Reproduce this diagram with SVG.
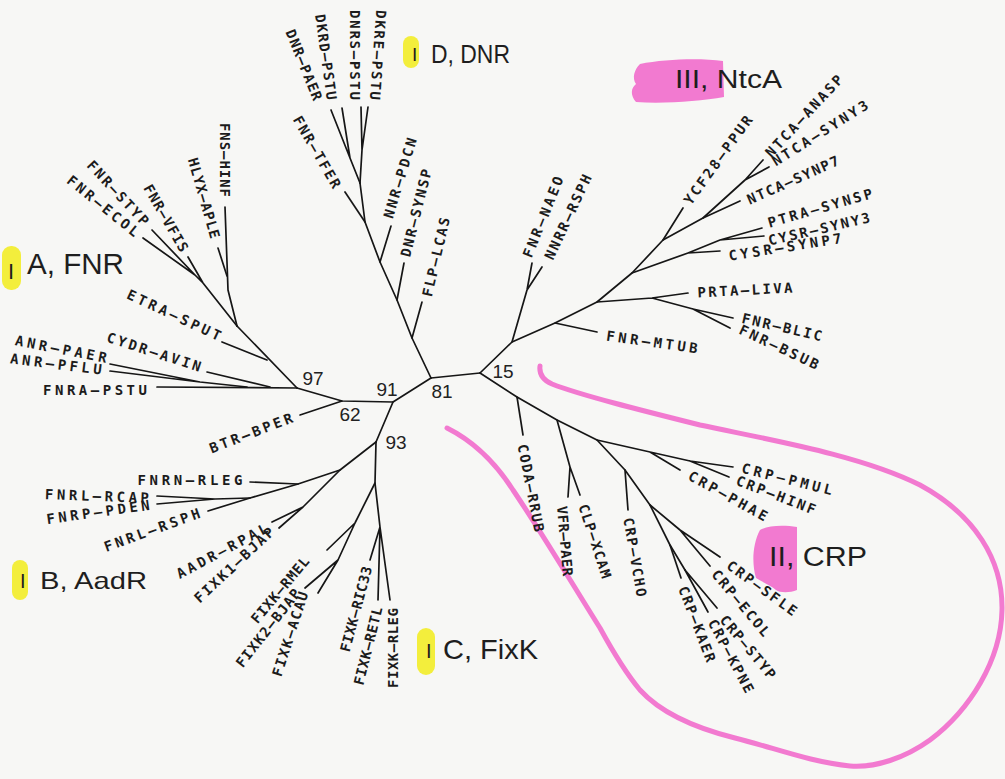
<svg xmlns="http://www.w3.org/2000/svg" width="1005" height="779" viewBox="0 0 1005 779">
  <style>
    .br { fill: none; stroke: #161616; stroke-width: 1.7; stroke-linecap: round; stroke-linejoin: round; }
    .l { font-family: "DejaVu Sans Mono", "Liberation Mono", monospace; font-size: 14px; font-weight: bold; fill: #1c1c1c; text-anchor: middle; dominant-baseline: central; }
    .bs { font-family: "Liberation Sans", Arial, sans-serif; font-size: 19px; fill: #222; text-anchor: middle; dominant-baseline: central; }
    .grp { font-family: "Liberation Sans", Arial, sans-serif; fill: #1e1e1e; }
    .yel { fill: #f3ee3c; }
    .pnk { fill: #f27ad0; }
    .loop { fill: none; stroke: #f27ad0; stroke-width: 5; stroke-linecap: round; stroke-linejoin: round; }
  </style>

  <rect width="1005" height="779" fill="#f7f7f5"/>

  <!-- highlighter marks behind the group names -->
  <g id="marks">
    <rect class="yel" x="2" y="246" width="19" height="44" rx="9"/>
    <rect class="yel" x="12" y="560" width="16" height="40" rx="8"/>
    <rect class="yel" x="417" y="628" width="18" height="47" rx="9"/>
    <rect class="yel" x="403" y="36" width="16" height="32" rx="8"/>
    <path class="pnk" d="M640,64 C665,59 700,58 723,61 L724,97 C700,101 665,104 636,102 C630,95 631,88 636,84 C632,78 634,70 640,64 Z"/>
    <path class="pnk" d="M760,530 C768,525 785,525 797,527 L797,590 C790,593 780,593 776,590 C770,585 762,582 756,578 C752,565 752,545 760,530 Z"/>
  </g>

  <!-- freehand loop drawn around the CRP clade -->
  <path class="loop" d="M540,366 C539,374 543,380 552,384 C580,395 640,410 700,425 C770,440 860,455 920,485 C975,515 1003,560 1002,610 C1001,660 970,710 930,740 C905,758 875,768 850,766 C810,762 775,748 735,738 C695,728 660,712 640,690 C625,672 612,650 600,628 C570,580 540,530 513,490 C495,462 475,442 447,428"/>

  <!-- branches -->
  <g id="connectors" class="br">
    <!-- backbone -->
    <path d="M431,378 L393,402 L342,401 L297,388"/>
    <path d="M393,402 L376,442"/>
    <path d="M431,378 L480,373"/>
    <!-- D: DNR clade -->
    <path d="M431,378 L412,338 L397,300 L380,262 L365,222 L360,183"/>
    <path d="M412,338 L422,302"/>
    <path d="M397,300 L404,263"/>
    <path d="M380,262 L391,226"/>
    <path d="M365,222 L345,192"/>
    <path d="M360,183 L350,158 L331,110 M350,158 L342,108"/>
    <path d="M360,183 L362,150 L361,107 M362,150 L368,107"/>
    <!-- A: FNR clade -->
    <path d="M297,388 L237,326"/>
    <path d="M267,360 L222,342"/>
    <path d="M297,388 L157,387"/>
    <path d="M270,387 L207,372"/>
    <path d="M247,387 L200,382 L110,364 M200,382 L110,371"/>
    <path d="M237,326 L228,290 L225,207"/>
    <path d="M227,276 L218,248"/>
    <path d="M237,326 L203,283 L188,257 M203,283 L195,275 L143,238 M195,275 L152,230"/>
    <path d="M342,401 L300,415"/>
    <!-- B: AadR clade -->
    <path d="M376,442 L340,470 L298,484 L250,498 L208,511"/>
    <path d="M298,484 L250,482"/>
    <path d="M250,498 L215,499 L157,496 M215,499 L157,504"/>
    <path d="M340,470 L303,507 L272,522 M303,507 L279,528"/>
    <!-- C: FixK clade -->
    <path d="M376,442 L375,483 L355,523 L327,550 M355,523 L338,560 L305,588 M338,560 L318,593"/>
    <path d="M375,483 L380,527 L370,560 M380,527 L378,600 M380,527 L390,600"/>
    <!-- II: CRP clade -->
    <path d="M480,373 L517,397 L557,420 L597,440 L625,470 L650,505 L670,545 L685,570"/>
    <path d="M517,397 L523,435"/>
    <path d="M557,420 L570,467 L568,497 M570,467 L580,495"/>
    <path d="M597,440 L650,452 L680,470 M650,452 L690,461 L733,467 M690,461 L729,477"/>
    <path d="M625,470 L628,510"/>
    <path d="M650,505 L680,530 L720,557 M680,530 L710,566"/>
    <path d="M670,545 L681,578"/>
    <path d="M685,570 L717,608 M685,570 L708,612"/>
    <!-- III: NtcA clade -->
    <path d="M480,373 L512,342 L555,323 L597,302 L632,273 L663,240 L703,218 L745,180 L763,160 M745,180 L769,167"/>
    <path d="M703,218 L740,201"/>
    <path d="M663,240 L683,208"/>
    <path d="M632,273 L688,253 L720,251 M688,253 L720,240 L762,228 M720,240 L764,236"/>
    <path d="M597,302 L652,298 L688,293 M652,298 L693,309 L733,318 M693,309 L730,328"/>
    <path d="M555,323 L597,332"/>
    <path d="M512,342 L527,290 L532,263 M527,290 L542,267"/>
  </g>

  <!-- bootstrap values -->
  <g id="support">
    <text class="bs" x="313" y="378">97</text>
    <text class="bs" x="387" y="389">91</text>
    <text class="bs" x="442" y="391">81</text>
    <text class="bs" x="350" y="414">62</text>
    <text class="bs" x="396" y="442">93</text>
    <text class="bs" x="503" y="371">15</text>
  </g>

  <!-- group names -->
  <g id="group-A">
    <text class="grp" x="8" y="279" font-size="22">I</text>
    <text class="grp" x="27" y="274" font-size="29" textLength="97" lengthAdjust="spacingAndGlyphs">A, FNR</text>
  </g>
  <g id="group-B">
    <text class="grp" x="20" y="588" font-size="20">I</text>
    <text class="grp" x="40" y="589" font-size="24" textLength="107" lengthAdjust="spacingAndGlyphs">B, AadR</text>
  </g>
  <g id="group-C">
    <text class="grp" x="426" y="658" font-size="20">I</text>
    <text class="grp" x="443" y="659" font-size="28" textLength="95" lengthAdjust="spacingAndGlyphs">C, FixK</text>
  </g>
  <g id="group-D">
    <text class="grp" x="412" y="61" font-size="19">I</text>
    <text class="grp" x="431" y="63" font-size="25" textLength="79" lengthAdjust="spacingAndGlyphs">D, DNR</text>
  </g>
  <g id="group-III">
    <text class="grp" x="675" y="88" font-size="25" textLength="107" lengthAdjust="spacingAndGlyphs">III, NtcA</text>
  </g>
  <g id="group-II">
    <text class="grp" x="769" y="566" font-size="27" textLength="98" lengthAdjust="spacingAndGlyphs">II, CRP</text>
  </g>

  <!-- leaf labels: A -->
  <g id="fnra-pstu"><text class="l" x="95" y="390" textLength="104">FNRA–PSTU</text></g>
  <g id="anr-pflu"><text class="l" x="56" y="364" transform="rotate(7 56 364)" textLength="92">ANR–PFLU</text></g>
  <g id="anr-paer"><text class="l" x="61" y="349" transform="rotate(11 61 349)" textLength="93">ANR–PAER</text></g>
  <g id="cydr-avin"><text class="l" x="154" y="352" transform="rotate(18 154 352)" textLength="98">CYDR–AVIN</text></g>
  <g id="etra-sput"><text class="l" x="174" y="315" transform="rotate(25 174 315)" textLength="102">ETRA–SPUT</text></g>
  <g id="fnr-ecol"><text class="l" x="103" y="206" transform="rotate(39 103 206)" textLength="88">FNR–ECOL</text></g>
  <g id="fnr-styp"><text class="l" x="118" y="193" transform="rotate(47 118 193)" textLength="83">FNR–STYP</text></g>
  <g id="fnr-vfis"><text class="l" x="166" y="218" transform="rotate(60 166 218)" textLength="75">FNR–VFIS</text></g>
  <g id="hlyx-aple"><text class="l" x="204" y="198" transform="rotate(74 204 198)" textLength="83">HLYX–APLE</text></g>
  <g id="fns-hinf"><text class="l" x="225" y="160" transform="rotate(90 225 160)" textLength="74">FNS–HINF</text></g>
  <g id="fnr-tfer"><text class="l" x="317" y="152" transform="rotate(60 317 152)" textLength="81">FNR–TFER</text></g>

  <!-- leaf labels: D -->
  <g id="dnr-paer"><text class="l" x="304" y="65" transform="rotate(68 304 65)" textLength="75">DNR–PAER</text></g>
  <g id="dkrd-pstu"><text class="l" x="326" y="57" transform="rotate(82 326 57)" textLength="86">DKRD–PSTU</text></g>
  <g id="dnrs-pstu"><text class="l" x="355" y="55" transform="rotate(90 355 55)" textLength="90">DNRS–PSTU</text></g>
  <g id="dkre-pstu"><text class="l" x="378" y="55" transform="rotate(94 378 55)" textLength="90">DKRE–PSTU</text></g>
  <g id="nnr-pdcn"><text class="l" x="400" y="178" transform="rotate(-73 400 178)" textLength="83">NNR–PDCN</text></g>
  <g id="dnr-synsp"><text class="l" x="416" y="213" transform="rotate(-76 416 213)" textLength="90">DNR–SYNSP</text></g>
  <g id="flp-lcas"><text class="l" x="436" y="257" transform="rotate(-77 436 257)" textLength="81">FLP–LCAS</text></g>

  <!-- leaf labels: III -->
  <g id="fnr-naeo"><text class="l" x="543" y="217" transform="rotate(-68 543 217)" textLength="86">FNR–NAEO</text></g>
  <g id="nnrr-rsph"><text class="l" x="568" y="217" transform="rotate(-65 568 217)" textLength="92">NNRR–RSPH</text></g>
  <g id="fnr-mtub"><text class="l" x="652" y="342" transform="rotate(8 652 342)" textLength="92">FNR–MTUB</text></g>
  <g id="prta-liva"><text class="l" x="745" y="290" transform="rotate(-3 745 290)" textLength="95">PRTA–LIVA</text></g>
  <g id="fnr-blic"><text class="l" x="782" y="327" transform="rotate(13 782 327)" textLength="82">FNR–BLIC</text></g>
  <g id="fnr-bsub"><text class="l" x="779" y="347" transform="rotate(25 779 347)" textLength="86">FNR–BSUB</text></g>
  <g id="cysr-synp7"><text class="l" x="785" y="247" transform="rotate(-9 785 247)" textLength="114">CYSR–SYNP7</text></g>
  <g id="cysr-syny3"><text class="l" x="819" y="229" transform="rotate(-13 819 229)" textLength="104">CYSR–SYNY3</text></g>
  <g id="ptra-synsp"><text class="l" x="820" y="208" transform="rotate(-16 820 208)" textLength="108">PTRA–SYNSP</text></g>
  <g id="ntca-synp7"><text class="l" x="793" y="180" transform="rotate(-24 793 180)" textLength="99">NTCA–SYNP7</text></g>
  <g id="ntca-syny3"><text class="l" x="820" y="133" transform="rotate(-32 820 133)" textLength="110">NTCA–SYNY3</text></g>
  <g id="ntca-anasp"><text class="l" x="804" y="116" transform="rotate(-47 804 116)" textLength="106">NTCA–ANASP</text></g>
  <g id="ycf28-ppur"><text class="l" x="718" y="160" transform="rotate(-54 718 160)" textLength="106">YCF28–PPUR</text></g>

  <!-- leaf labels: II -->
  <g id="coda-rrub"><text class="l" x="531" y="488" transform="rotate(79 531 488)" textLength="89">CODA–RRUB</text></g>
  <g id="vfr-paer"><text class="l" x="565" y="541" transform="rotate(85 565 541)" textLength="70">VFR–PAER</text></g>
  <g id="clp-xcam"><text class="l" x="595" y="541" transform="rotate(72 595 541)" textLength="77">CLP–XCAM</text></g>
  <g id="crp-vcho"><text class="l" x="635" y="557" transform="rotate(80 635 557)" textLength="80">CRP–VCHO</text></g>
  <g id="crp-pmul"><text class="l" x="787" y="479" transform="rotate(14 787 479)" textLength="93">CRP–PMUL</text></g>
  <g id="crp-hinf"><text class="l" x="776" y="495" transform="rotate(21 776 495)" textLength="84">CRP–HINF</text></g>
  <g id="crp-phae"><text class="l" x="728" y="496" transform="rotate(29 728 496)" textLength="88">CRP–PHAE</text></g>
  <g id="crp-sfle"><text class="l" x="762" y="588" transform="rotate(36 762 588)" textLength="83">CRP–SFLE</text></g>
  <g id="crp-ecol"><text class="l" x="741" y="603" transform="rotate(50 741 603)" textLength="82">CRP–ECOL</text></g>
  <g id="crp-styp"><text class="l" x="748" y="647" transform="rotate(50 748 647)" textLength="78">CRP–STYP</text></g>
  <g id="crp-kpne"><text class="l" x="731" y="656" transform="rotate(62 731 656)" textLength="81">CRP–KPNE</text></g>
  <g id="crp-kaer"><text class="l" x="697" y="624" transform="rotate(69 697 624)" textLength="80">CRP–KAER</text></g>

  <!-- leaf labels: B and C -->
  <g id="btr-bper"><text class="l" x="251" y="433" transform="rotate(-21 251 433)" textLength="88">BTR–BPER</text></g>
  <g id="fnrn-rleg"><text class="l" x="190" y="480" textLength="105">FNRN–RLEG</text></g>
  <g id="fnrl-rcap"><text class="l" x="97" y="496" transform="rotate(2 97 496)" textLength="104">FNRL–RCAP</text></g>
  <g id="fnrp-pden"><text class="l" x="98" y="512" transform="rotate(-8 98 512)" textLength="104">FNRP–PDEN</text></g>
  <g id="fnrl-rsph"><text class="l" x="152" y="530" transform="rotate(-20 152 530)" textLength="101">FNRL–RSPH</text></g>
  <g id="aadr-rpal"><text class="l" x="222" y="551" transform="rotate(-28 222 551)" textLength="101">AADR–RPAL</text></g>
  <g id="fixk1-bjap"><text class="l" x="234" y="565" transform="rotate(-43 234 565)" textLength="103">FIXK1–BJAP</text></g>
  <g id="fixk-rmel"><text class="l" x="280" y="590" transform="rotate(-50 280 590)" textLength="82">FIXK–RMEL</text></g>
  <g id="fixk2-bjap"><text class="l" x="268" y="628" transform="rotate(-52 268 628)" textLength="95">FIXK2–BJAP</text></g>
  <g id="fixk-acau"><text class="l" x="290" y="634" transform="rotate(-72 290 634)" textLength="88">FIXK–ACAU</text></g>
  <g id="fixk-ric33"><text class="l" x="356" y="609" transform="rotate(-75 356 609)" textLength="88">FIXK–RIC33</text></g>
  <g id="fixk-retl"><text class="l" x="368" y="646" transform="rotate(-76 368 646)" textLength="80">FIXK–RETL</text></g>
  <g id="fixk-rleg"><text class="l" x="393" y="648" transform="rotate(-90 393 648)" textLength="80">FIXK–RLEG</text></g>
</svg>
